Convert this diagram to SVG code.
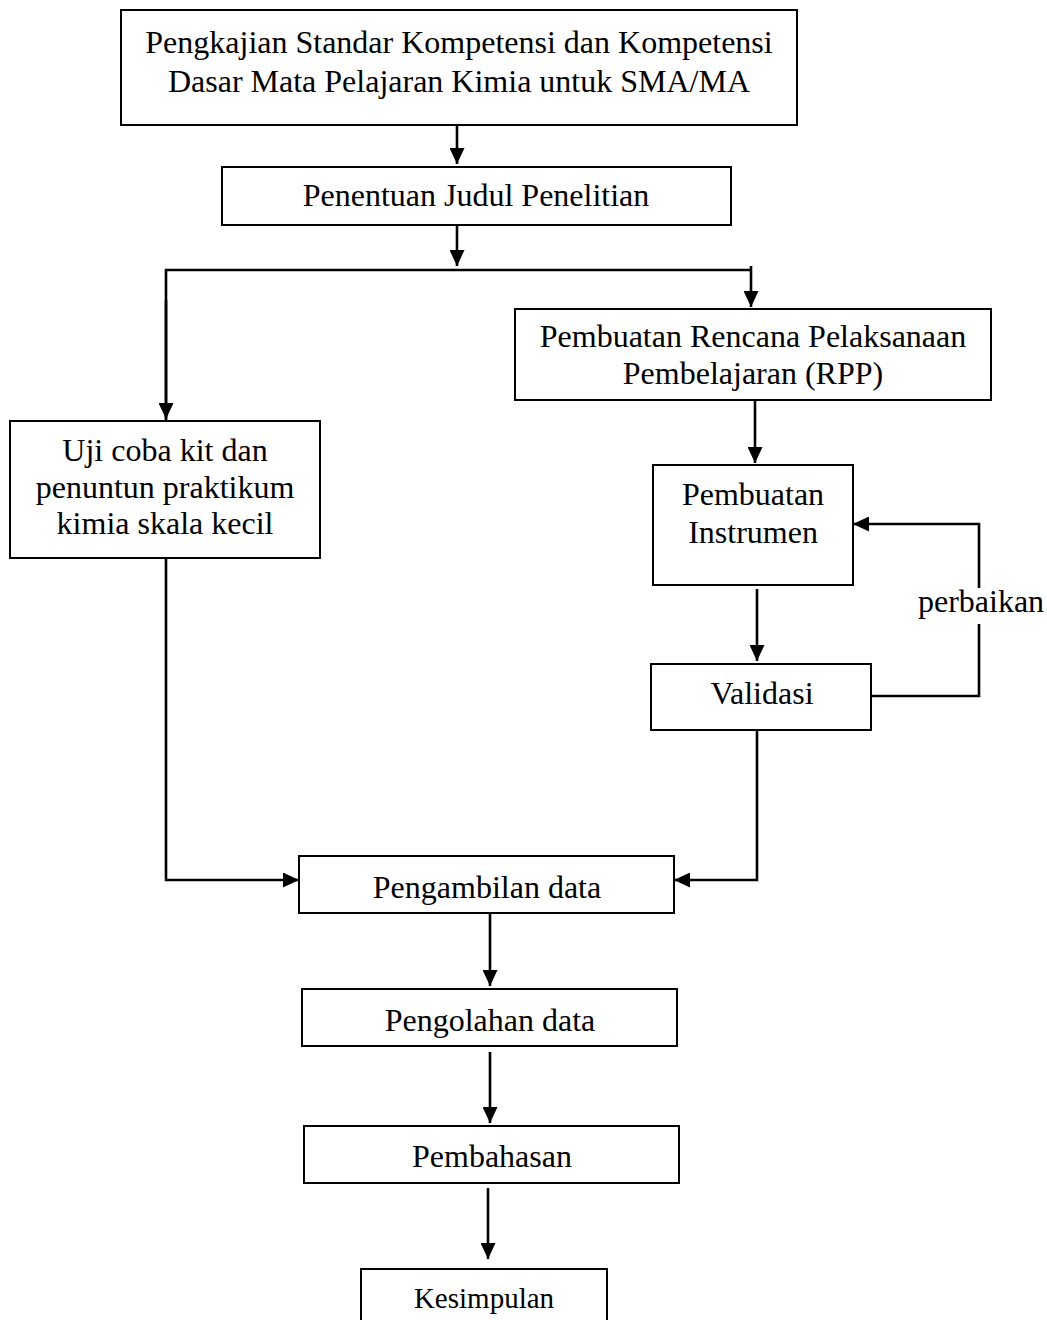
<svg xmlns="http://www.w3.org/2000/svg" width="1047" height="1320" viewBox="0 0 1047 1320">
<style>
.box{fill:#fff;stroke:#000;stroke-width:2}
.lbl{font-family:"Liberation Serif","Times New Roman",serif;font-size:32px;fill:#000;text-anchor:middle}
.con{fill:none;stroke:#000;stroke-width:2.6}
</style>
<defs>
<marker id="ah" markerUnits="userSpaceOnUse" markerWidth="16" markerHeight="15" refX="16" refY="7.5" orient="auto">
<path d="M0,0 L16,7.5 L0,15 z" fill="#000"/>
</marker>
</defs>
<rect width="1047" height="1320" fill="#fff"/>
<g id="connectors">
<line class="con" x1="457" y1="125" x2="457" y2="164" marker-end="url(#ah)"/>
<line class="con" x1="457" y1="225" x2="457" y2="266" marker-end="url(#ah)"/>
<polyline class="con" points="166,421 166,270 751,270"/>
<line class="con" x1="166" y1="300" x2="166" y2="419" marker-end="url(#ah)"/>
<line class="con" x1="751" y1="266" x2="751" y2="307" marker-end="url(#ah)"/>
<line class="con" x1="755" y1="400" x2="755" y2="463" marker-end="url(#ah)"/>
<line class="con" x1="757" y1="589" x2="757" y2="661" marker-end="url(#ah)"/>
<polyline class="con" points="871,696 979,696 979,624"/>
<polyline class="con" points="979,588 979,524 853,524" marker-end="url(#ah)"/>
<polyline class="con" points="166,558 166,880 299,880" marker-end="url(#ah)"/>
<polyline class="con" points="757,730 757,880 674,880" marker-end="url(#ah)"/>
<line class="con" x1="490" y1="913" x2="490" y2="986" marker-end="url(#ah)"/>
<line class="con" x1="490" y1="1052" x2="490" y2="1123" marker-end="url(#ah)"/>
<line class="con" x1="488" y1="1188" x2="488" y2="1259" marker-end="url(#ah)"/>
<text class="lbl" x="981" y="612">perbaikan</text>
</g>
<g id="n1"><rect class="box" x="121" y="10" width="676" height="115"/>
<text class="lbl" x="459" y="53">Pengkajian Standar Kompetensi dan Kompetensi</text>
<text class="lbl" x="459" y="92">Dasar Mata Pelajaran Kimia untuk SMA/MA</text></g>
<g id="n2"><rect class="box" x="222" y="167" width="509" height="58"/>
<text class="lbl" x="476" y="206">Penentuan Judul Penelitian</text></g>
<g id="n3"><rect class="box" x="10" y="421" width="310" height="137"/>
<text class="lbl" x="165" y="461">Uji coba kit dan</text>
<text class="lbl" x="165" y="498">penuntun praktikum</text>
<text class="lbl" x="165" y="534">kimia skala kecil</text></g>
<g id="n4"><rect class="box" x="515" y="309" width="476" height="91"/>
<text class="lbl" x="753" y="347">Pembuatan Rencana Pelaksanaan</text>
<text class="lbl" x="753" y="384">Pembelajaran (RPP)</text></g>
<g id="n5"><rect class="box" x="653" y="465" width="200" height="120"/>
<text class="lbl" x="753" y="505">Pembuatan</text>
<text class="lbl" x="753" y="543">Instrumen</text></g>
<g id="n6"><rect class="box" x="651" y="664" width="220" height="66"/>
<text class="lbl" x="762" y="704">Validasi</text></g>
<g id="n7"><rect class="box" x="299" y="856" width="375" height="57"/>
<text class="lbl" x="487" y="898">Pengambilan data</text></g>
<g id="n8"><rect class="box" x="302" y="989" width="375" height="57"/>
<text class="lbl" x="490" y="1031">Pengolahan data</text></g>
<g id="n9"><rect class="box" x="304" y="1126" width="375" height="57"/>
<text class="lbl" x="492" y="1167">Pembahasan</text></g>
<g id="n10"><rect class="box" x="361" y="1269" width="246" height="60"/>
<text class="lbl" x="484" y="1308" style="font-size:29px">Kesimpulan</text></g>
</svg>
